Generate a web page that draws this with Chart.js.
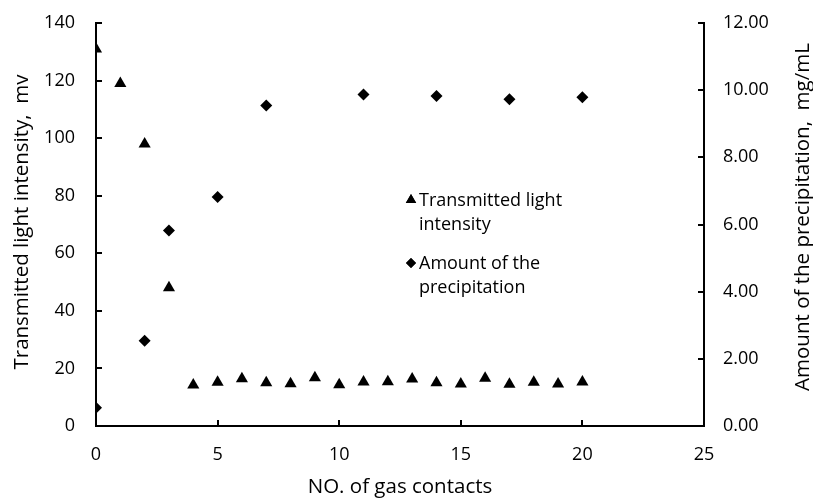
<!DOCTYPE html>
<html>
<head>
<meta charset="utf-8">
<script src="https://cdn.jsdelivr.net/npm/chart.js@4"></script>
<style>
  html, body { margin: 0; padding: 0; background: #fff; }
</style>
</head>
<body>
<canvas id="chart" width="813" height="499"></canvas>
<script>
// data
const contacts = [0, 1, 2, 3, 4, 5, 6, 7, 8, 9, 10, 11, 12, 13, 14, 15, 16, 17, 18, 19, 20];
const lightIntensity = [131, 119, 98, 48, 14.2, 15.2, 16.4, 15.0, 14.7, 16.8, 14.3, 15.3, 15.4, 16.3, 15.0, 14.6, 16.6, 14.5, 15.2, 14.6, 15.3];
const precipContacts = [0, 2, 3, 5, 7, 11, 14, 17, 20];
const precipitation = [0.54, 2.54, 5.82, 6.82, 9.54, 9.87, 9.83, 9.73, 9.79];

const xTicks = [0, 5, 10, 15, 20, 25];
const leftTicks = [0, 20, 40, 60, 80, 100, 120, 140];
const rightTicks = [0, 2, 4, 6, 8, 10, 12];

const xTitle = 'NO. of gas contacts';
const leftTitle = 'Transmitted light intensity,  mv';
const rightTitle = 'Amount of the precipitation,  mg/mL';
const legendItems = [
    { style: 'triangle', radius: 6, lines: ['Transmitted light', 'intensity'] },
    { style: 'rectRot', radius: 5, lines: ['Amount of the', 'precipitation'] }
];

const FONT = '"Open Sans", "Noto Sans", sans-serif';

// tick marks pointing into the plot, axis titles and the legend
const extrasPlugin = {
    id: 'extras',
    afterDraw(chart) {
        const ctx = chart.ctx;
        const area = chart.chartArea;
        const { x, y, y2 } = chart.scales;
        ctx.save();
        ctx.strokeStyle = '#000';
        ctx.lineWidth = 2;
        ctx.beginPath();
        leftTicks.forEach(v => {
            const py = Math.round(y.getPixelForValue(v));
            ctx.moveTo(area.left, py);
            ctx.lineTo(area.left + 6, py);
        });
        rightTicks.forEach(v => {
            const py = Math.round(y2.getPixelForValue(v));
            ctx.moveTo(area.right, py);
            ctx.lineTo(area.right - 6, py);
        });
        xTicks.forEach(v => {
            const px = Math.round(x.getPixelForValue(v));
            ctx.moveTo(px, area.bottom);
            ctx.lineTo(px, area.bottom - 6);
        });
        ctx.stroke();

        ctx.fillStyle = '#000';
        ctx.font = '20.5px ' + FONT;
        ctx.textBaseline = 'alphabetic';
        ctx.textAlign = 'center';
        ctx.fillText(xTitle, (area.left + area.right) / 2, 493);

        ctx.save();
        ctx.translate(28, 222);
        ctx.rotate(-Math.PI / 2);
        ctx.fillText(leftTitle, 0, 0);
        ctx.restore();

        ctx.save();
        ctx.translate(809, 217);
        ctx.rotate(-Math.PI / 2);
        ctx.fillText(rightTitle, 0, 0);
        ctx.restore();

        // legend
        ctx.font = '18px ' + FONT;
        ctx.textAlign = 'left';
        let base = 206;
        legendItems.forEach(item => {
            Chart.helpers.drawPoint(ctx, {
                pointStyle: item.style, radius: item.radius, rotation: 0, borderWidth: 0
            }, 411, base - 6);
            ctx.fill();
            item.lines.forEach((t, i) => {
                ctx.fillText(t, 419, base + i * 24);
            });
            base += 63;
        });
        ctx.restore();
    }
};

const toPoints = (xs, ys) => xs.map((v, i) => ({ x: v, y: ys[i] }));

// keep the plot box fixed: no extra room for half-labels at the ends
const noEdgePad = s => {
    s.paddingTop = 0; s.paddingBottom = 0;
    s.paddingLeft = 0; s.paddingRight = 0;
};

new Chart(document.getElementById('chart'), {
    type: 'scatter',
    data: {
        datasets: [
            {
                label: 'Transmitted light intensity',
                data: toPoints(contacts, lightIntensity),
                yAxisID: 'y',
                pointStyle: 'triangle',
                pointRadius: 7,
                backgroundColor: '#000',
                borderColor: '#000',
                borderWidth: 0
            },
            {
                label: 'Amount of the precipitation',
                data: toPoints(precipContacts, precipitation),
                yAxisID: 'y2',
                pointStyle: 'rectRot',
                pointRadius: 6,
                backgroundColor: '#000',
                borderColor: '#000',
                borderWidth: 0
            }
        ]
    },
    options: {
        responsive: false,
        animation: false,
        devicePixelRatio: 1,
        layout: { padding: { top: 23, left: 0, right: 0, bottom: 0 } },
        plugins: {
            legend: { display: false },
            tooltip: { enabled: false }
        },
        scales: {
            x: {
                type: 'linear',
                min: 0, max: 25,
                afterFit: s => { s.height = 73; noEdgePad(s); },
                afterBuildTicks: s => { s.ticks = xTicks.map(v => ({ value: v })); },
                ticks: { color: '#000', padding: 18, font: { family: FONT, size: 18 }, maxRotation: 0 },
                grid: { drawOnChartArea: false, drawTicks: false },
                border: { color: '#000', width: 2 }
            },
            y: {
                position: 'left',
                min: 0, max: 140,
                afterFit: s => { s.width = 96; noEdgePad(s); },
                afterBuildTicks: s => { s.ticks = leftTicks.map(v => ({ value: v })); },
                ticks: { color: '#000', padding: 21, font: { family: FONT, size: 18 } },
                grid: { drawOnChartArea: false, drawTicks: false },
                border: { color: '#000', width: 2 }
            },
            y2: {
                position: 'right',
                min: 0, max: 12,
                afterFit: s => { s.width = 109; noEdgePad(s); },
                afterBuildTicks: s => { s.ticks = rightTicks.map(v => ({ value: v })); },
                ticks: {
                    color: '#000', padding: 19, font: { family: FONT, size: 18 },
                    callback: v => Number(v).toFixed(2)
                },
                grid: { drawOnChartArea: false, drawTicks: false },
                border: { color: '#000', width: 2 }
            }
        }
    },
    plugins: [extrasPlugin]
});
</script>
</body>
</html>
